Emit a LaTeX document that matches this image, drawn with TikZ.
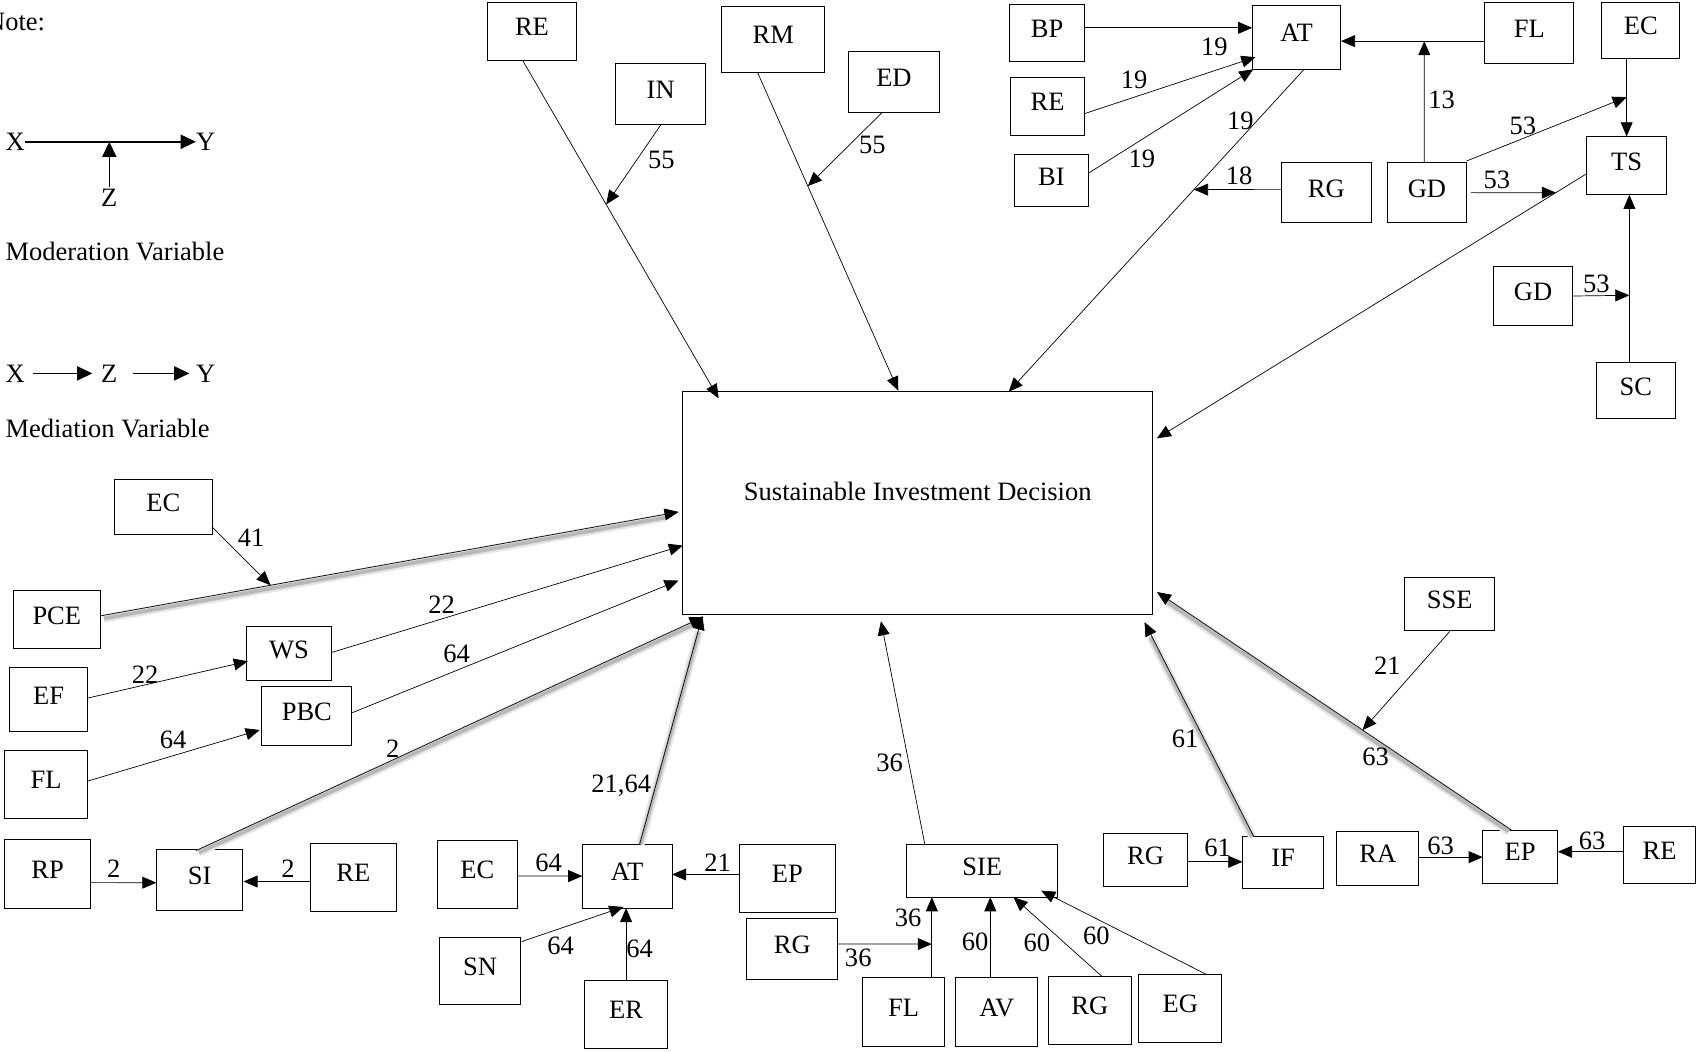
\documentclass[tikz,border=0pt]{standalone}
\usepackage{fontspec}
\setmainfont{Liberation Serif}
\usetikzlibrary{arrows.meta,calc}
\newcommand{\myfs}{\fontsize{24.5}{29}\selectfont}
\begin{document}
\begin{tikzpicture}[x=1pt,y=-1pt,
  bx/.style={draw, line width=0.9pt, inner sep=0pt, font=\myfs, text depth=8pt},
  box/.style 2 args={bx, minimum width=#1pt, minimum height=#2pt},
  lb/.style={font=\myfs, inner sep=0pt},
  ar/.style={line width=0.65pt, -{Triangle[length=13pt,width=11pt]}},
  leg/.style={line width=1.4pt, -{Triangle[length=14pt,width=13pt]}},
  shdl/.style={draw=black!28, line width=3.5pt, shorten >=12pt, shorten <=3pt,
              preaction={draw=black!10, line width=7.5pt}}
]
\useasboundingbox (0,0) rectangle (1568,972);

% ---------- legend ----------
\node[lb, anchor=west] (note) at (-13,20) {Note:};
\node[lb] (X1) at (14,131) {X};
\node[lb] (Y1) at (190,131) {Y};
\node[lb] (Z1) at (101,183) {Z};
\draw[leg] (X1.east) -- (Y1.west);
\coordinate (zc) at (Z1 |- X1);
\draw[leg, shorten <=2pt] (Z1.north) -- (zc);
\node[lb, anchor=west] (modv) at (5,232) {Moderation Variable};
\node[lb] (X2) at (14,345) {X};
\node[lb] (Z2) at (101,345) {Z};
\node[lb] (Y2) at (190,345) {Y};
\draw[leg, shorten <=7pt, shorten >=8pt] (X2.east) -- (Z2.west);
\draw[leg, shorten <=14pt, shorten >=6pt] (Z2.east) -- (Y2.west);
\node[lb, anchor=west] (medv) at (5,396) {Mediation Variable};

% ---------- main ----------
\node[draw, line width=0.9pt, minimum width=434pt, minimum height=206pt, inner sep=0pt,
      font=\myfs, text depth=22pt] (main) at (848,465) {Sustainable Investment Decision};

% ---------- boxes ----------
\node[box={83}{54}] (REt) at (491.5,29) {RE};
\node[box={83}{56}] (IN) at (610.5,87) {IN};
\node[box={95}{61}] (RM) at (714.5,36.5) {RM};
\node[box={84}{56}] (ED) at (826,76) {ED};
\node[box={69}{53}] (BP) at (967.5,30.5) {BP};
\node[box={82}{59}] (ATt) at (1198,34.5) {AT};
\node[box={68}{53}] (REr) at (968,98.5) {RE};
\node[box={69}{48}] (BI) at (971.5,167) {BI};
\node[box={83}{56}] (RGt) at (1225.5,178) {RG};
\node[box={82}{57}] (FLt) at (1413,30.5) {FL};
\node[box={73}{56}] (GDt) at (1318.5,178) {GD};
\node[box={72}{52}] (ECt) at (1516,28) {EC};
\node[box={74}{54}] (TS) at (1503,153) {TS};
\node[box={73}{55}] (GDr) at (1416.5,273.5) {GD};
\node[box={73}{52}] (SC) at (1511.5,361) {SC};

\node[box={90}{51}] (ECl) at (151,468.5) {EC};
\node[box={81}{53}] (PCE) at (52.5,572.5) {PCE};
\node[box={78}{50}] (WS) at (267,604) {WS};
\node[box={72}{59}] (EF) at (45,646.5) {EF};
\node[box={83}{55}] (PBC) at (283.5,661.5) {PBC};
\node[box={77}{63}] (FLl) at (42.5,724.5) {FL};
\node[box={80}{63}] (RP) at (44,807.5) {RP};
\node[box={79}{56}] (SI) at (184.5,813) {SI};
\node[box={79}{63}] (REb) at (326.5,810.5) {RE};
\node[box={74}{62}] (ECb) at (441,808) {EC};
\node[box={83}{59}] (ATb) at (579.5,809.5) {AT};
\node[box={89}{63}] (EPb) at (727.5,811.5) {EP};
\node[box={75}{62}] (SN) at (443.5,897) {SN};
\node[box={77}{63}] (ER) at (578.5,937.5) {ER};

\node[box={139}{49}] (SIE) at (907.5,804.5) {SIE};
\node[box={84}{56}] (RGb) at (732,877) {RG};
\node[box={76}{64}] (FLb) at (835,935) {FL};
\node[box={76}{64}] (AV) at (921,935) {AV};
\node[box={76}{63}] (RGc) at (1007,933.5) {RG};
\node[box={77}{63}] (EG) at (1090.5,931.5) {EG};
\node[box={77}{49}] (RGr) at (1058.5,794.5) {RG};
\node[box={75}{48}] (IF) at (1185.5,797) {IF};
\node[box={76}{50}] (RA) at (1273,793) {RA};
\node[box={69}{49}] (EPr) at (1404.5,791.5) {EP};
\node[box={67}{52}] (REs) at (1533.5,790) {RE};
\node[box={83}{49}] (SSE) at (1339.5,558.5) {SSE};

% ---------- shadows of the heavy connectors ----------
\draw[shdl] ([shift={(40.5,-0.5)}]PCE.center) -- ([shift={(-221,11)}]main.center);
\draw[shdl] ([shift={(-3.5,-24)}]SI.center) -- ([shift={(-198,108)}]main.center);
\draw[shdl] ([shift={(11.5,-26.5)}]ATb.center) -- ([shift={(-199,107)}]main.center);
\draw[shdl] ([shift={(-27,-21)}]IF.center) -- ([shift={(209.5,112.8)}]main.center);
\draw[shdl] ([shift={(-8,-21.5)}]EPr.center) -- ([shift={(221,85)}]main.center);

% ---------- connectors: top ----------
\draw[ar] ([shift={(-8.5,27)}]REt.center) -- coordinate[pos=0.426] (pIN) ([shift={(-184,-97)}]main.center);
\draw[ar] (IN.south) -- (pIN);
\draw[ar] ([shift={(-14.5,30.5)}]RM.center) -- coordinate[pos=0.357] (pED) ([shift={(-18,-104)}]main.center);
\draw[ar] ([shift={(-11,28)}]ED.center) -- (pED);
\draw[ar] ([shift={(34.5,-4.8)}]BP.center) -- ([shift={(-41,-8.8)}]ATt.center);
\draw[ar] ([shift={(34,6.5)}]REr.center) -- ([shift={(-38,18.3)}]ATt.center);
\draw[ar] ([shift={(35,-7.5)}]BI.center) -- ([shift={(-40,29.5)}]ATt.center);
\draw[ar] ([shift={(7,29.5)}]ATt.center) -- coordinate[pos=0.373] (pRG) ([shift={(84,-103)}]main.center);
\draw[ar] ([shift={(-41.5,-2.8)}]RGt.center) -- (pRG);
\draw[ar] ([shift={(-41,7.5)}]FLt.center) -- coordinate[pos=0.421] (pGD) ([shift={(41,3.5)}]ATt.center);
\draw[ar] ([shift={(-2.5,-28)}]GDt.center) -- (pGD);
\draw[ar] ([shift={(-13,26)}]ECt.center) -- coordinate[pos=0.496] (pEC) ([shift={(0,-27)}]TS.center);
\draw[ar] ([shift={(36.5,-29.2)}]GDt.center) -- (pEC);
\draw[ar] ([shift={(-37,7.5)}]TS.center) -- coordinate[pos=0.0716] (pGDb) ([shift={(221,-60)}]main.center);
\draw[ar] ([shift={(40.5,0)}]GDt.center) -- (pGDb);
\draw[ar] ([shift={(-6,-26)}]SC.center) -- coordinate[pos=0.401] (pGDc) ([shift={(2.5,27)}]TS.center);
\draw[ar] (GDr.east) -- (pGDc);

% ---------- connectors: left ----------
\draw[ar] ([shift={(40.5,-3.5)}]PCE.center) -- coordinate[pos=0.294] (pEC2) ([shift={(-221,8)}]main.center);
\draw[ar] ([shift={(45,18.5)}]ECl.center) -- (pEC2);
\draw[ar] ([shift={(39,-1)}]WS.center) -- ([shift={(-217,39)}]main.center);
\draw[ar] ([shift={(36,-1.5)}]EF.center) -- ([shift={(-38,7)}]WS.center);
\draw[ar] ([shift={(42,-3)}]PBC.center) -- ([shift={(-221,71.4)}]main.center);
\draw[ar] ([shift={(38.5,-2.8)}]FLl.center) -- ([shift={(-43.5,13)}]PBC.center);
\draw[ar] ([shift={(40,8)}]RP.center) -- ([shift={(-40,2.6)}]SI.center);
\draw[ar] ([shift={(-39.5,4)}]REb.center) -- ([shift={(40.5,1.5)}]SI.center);
\draw[ar] ([shift={(-3.5,-27)}]SI.center) -- ([shift={(-198,105)}]main.center);
\draw[ar] ([shift={(37,1.4)}]ECb.center) -- ([shift={(-41.5,0)}]ATb.center);
\draw[ar] ([shift={(-44.5,-3.5)}]EPb.center) -- ([shift={(41.5,-1.5)}]ATb.center);
\draw[ar] ([shift={(11.5,-29.5)}]ATb.center) -- ([shift={(-199,104)}]main.center);
\draw[ar] ([shift={(38.5,-27)}]SN.center) -- ([shift={(-3.5,28.5)}]ATb.center);
\draw[ar] (ER.north) -- ([shift={(-1,29.5)}]ATb.center);

% ---------- connectors: bottom ----------
\draw[ar] ([shift={(-53,-24.5)}]SIE.center) -- ([shift={(-34,109)}]main.center);
\draw[ar] ([shift={(26,-32)}]FLb.center) -- coordinate[pos=0.415] (pRGb) ([shift={(-46.5,24.5)}]SIE.center);
\draw[ar] ([shift={(42,-4.7)}]RGb.center) -- (pRGb);
\draw[ar] ([shift={(-6,-32)}]AV.center) -- ([shift={(7.5,24.5)}]SIE.center);
\draw[ar] ([shift={(11,-31.5)}]RGc.center) -- ([shift={(29,24.5)}]SIE.center);
\draw[ar] ([shift={(23.5,-31.5)}]EG.center) -- ([shift={(54.5,18.5)}]SIE.center);
\draw[ar] ([shift={(38.5,1.8)}]RGr.center) -- ([shift={(-37.5,-0.7)}]IF.center);
\draw[ar] ([shift={(-27,-24)}]IF.center) -- ([shift={(209.5,109.8)}]main.center);
\draw[ar] ([shift={(38,-1)}]RA.center) -- ([shift={(-34.5,0.5)}]EPr.center);
\draw[ar] ([shift={(-33.5,-3)}]REs.center) -- ([shift={(35,-4.5)}]EPr.center);
\draw[ar] ([shift={(-8,-24.5)}]EPr.center) -- coordinate[pos=0.42] (pSSE) ([shift={(221,82)}]main.center);
\draw[ar] (SSE.south) -- (pSSE);

% ---------- labels ----------
\node[lb] (l55a) at (611,148) {55};
\node[lb] (l55b) at (806,134) {55};
\node[lb] (l19a) at (1122,43) {19};
\node[lb] (l19b) at (1048,74) {19};
\node[lb] (l19c) at (1055,147) {19};
\node[lb] (l19d) at (1146,112) {19};
\node[lb] (l18) at (1145,162) {18};
\node[lb] (l13) at (1332,92) {13};
\node[lb] (l53a) at (1407,116) {53};
\node[lb] (l53b) at (1383,166) {53};
\node[lb] (l53c) at (1475,262) {53};
\node[lb] (l41) at (232,497) {41};
\node[lb] (l22a) at (408,559) {22};
\node[lb] (l22b) at (134,623) {22};
\node[lb] (l64a) at (422,604) {64};
\node[lb] (l64b) at (160,684) {64};
\node[lb] (l2a) at (105,803) {2};
\node[lb] (l2b) at (266,803) {2};
\node[lb] (l2c) at (363,692) {2};
\node[lb] (l64c) at (507,797) {64};
\node[lb] (l21a) at (663,797) {21};
\node[lb] (l2164) at (574,726) {21,64};
\node[lb] (l64d) at (518,874) {64};
\node[lb] (l64e) at (591,877) {64};
\node[lb] (l36a) at (822,705) {36};
\node[lb] (l36b) at (839,848) {36};
\node[lb] (l36c) at (793,885) {36};
\node[lb] (l60a) at (901,870) {60};
\node[lb] (l60b) at (958,871) {60};
\node[lb] (l60c) at (1013,865) {60};
\node[lb] (l61a) at (1125,783) {61};
\node[lb] (l61b) at (1095,683) {61};
\node[lb] (l63a) at (1331,782) {63};
\node[lb] (l63b) at (1471,777) {63};
\node[lb] (l63c) at (1271,699) {63};
\node[lb] (l21b) at (1282,615) {21};
\end{tikzpicture}
\end{document}
